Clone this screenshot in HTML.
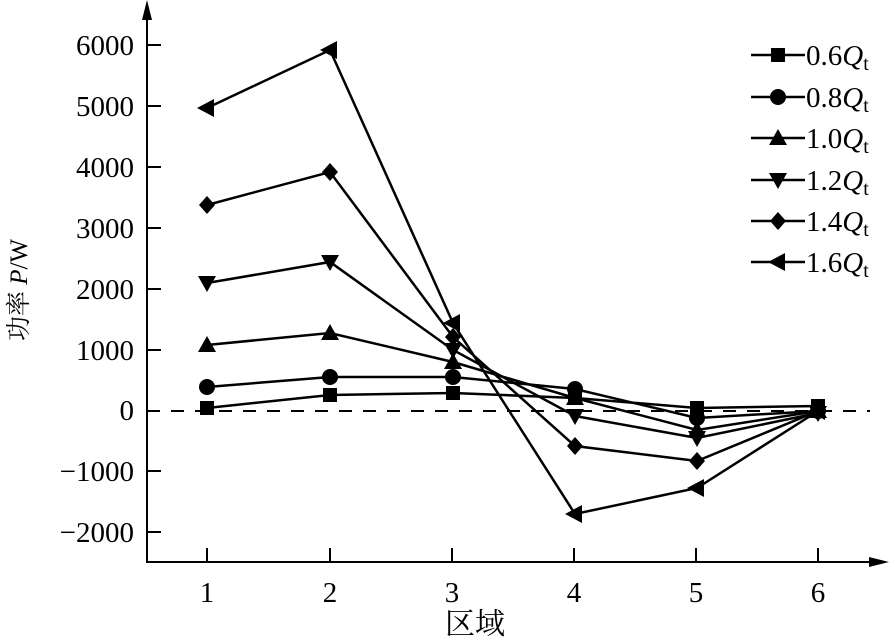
<!DOCTYPE html>
<html><head><meta charset="utf-8"><style>
html,body{margin:0;padding:0;background:#fff;}
svg{display:block;}
text{font-family:"Liberation Serif","Noto Serif CJK SC",serif;fill:#000;}
</style></head><body>
<svg width="889" height="639" viewBox="0 0 889 639" xmlns="http://www.w3.org/2000/svg">
<defs>
<g id="sq"><rect x="-7" y="-7" width="14" height="14"/></g>
<g id="ci"><circle r="8"/></g>
<g id="tu"><polygon points="0,-9 9,7 -9,7"/></g>
<g id="td"><polygon points="0,9 9,-7 -9,-7"/></g>
<g id="di"><polygon points="0,-9 8,0 0,9 -8,0"/></g>
<g id="tl"><polygon points="-10,0 7,-9 7,9"/></g>
</defs>
<line x1="147" y1="8" x2="147" y2="563" stroke="#000" stroke-width="2"/>
<polygon points="147,0 142,20 152,20" fill="#000"/>
<line x1="146" y1="562" x2="880" y2="562" stroke="#000" stroke-width="2"/>
<polygon points="889,562 869,557 869,567" fill="#000"/>
<g stroke="#000" stroke-width="2">
<line x1="147" y1="45" x2="161" y2="45"/><line x1="147" y1="106" x2="161" y2="106"/>
<line x1="147" y1="167" x2="161" y2="167"/><line x1="147" y1="228" x2="161" y2="228"/>
<line x1="147" y1="289" x2="161" y2="289"/><line x1="147" y1="350" x2="161" y2="350"/>
<line x1="147" y1="471" x2="161" y2="471"/><line x1="147" y1="532" x2="161" y2="532"/>
<line x1="207" y1="548" x2="207" y2="562"/><line x1="330" y1="548" x2="330" y2="562"/>
<line x1="452" y1="548" x2="452" y2="562"/><line x1="574" y1="548" x2="574" y2="562"/>
<line x1="696" y1="548" x2="696" y2="562"/><line x1="818" y1="548" x2="818" y2="562"/>
</g>
<line x1="147" y1="411" x2="870" y2="411" stroke="#000" stroke-width="2" stroke-dasharray="13,11"/>
<g font-size="29" text-anchor="end">
<text x="134" y="55">6000</text><text x="134" y="116">5000</text><text x="134" y="177">4000</text>
<text x="134" y="238">3000</text><text x="134" y="299">2000</text><text x="134" y="360">1000</text>
<text x="134" y="420">0</text><text x="134" y="481">−1000</text><text x="134" y="542">−2000</text>
</g>
<g font-size="29" text-anchor="middle">
<text x="207" y="602">1</text><text x="330" y="602">2</text><text x="452" y="602">3</text>
<text x="574" y="602">4</text><text x="696" y="602">5</text><text x="818" y="602">6</text>
</g>
<text x="475" y="634" font-size="30" text-anchor="middle">区域</text>
<text transform="translate(27,290) rotate(-90)" font-size="25" text-anchor="middle">功率 <tspan font-style="italic">P</tspan>/W</text>
<g fill="none" stroke="#000" stroke-width="2.5">
<polyline points="207,408 330,395 453,393 575,398 697,408 818,406"/>
<polyline points="207,387 330,377 453,377 575,389 697,418 818,411"/>
<polyline points="207,345 330,333 453,362 575,398 697,430 818,411"/>
<polyline points="207,283 330,262 453,350 575,416 697,438 818,413"/>
<polyline points="207,205 330,172 453,337 575,446 697,461 818,411"/>
<polyline points="207,108 330,50 453,323 575,514 697,488 818,411"/>
</g>
<g fill="#000">
<use href="#sq" x="207" y="408"/><use href="#sq" x="330" y="395"/><use href="#sq" x="453" y="393"/><use href="#sq" x="575" y="398"/><use href="#sq" x="697" y="408"/><use href="#sq" x="818" y="406"/>
<use href="#ci" x="207" y="387"/><use href="#ci" x="330" y="377"/><use href="#ci" x="453" y="377"/><use href="#ci" x="575" y="389"/><use href="#ci" x="697" y="418"/><use href="#ci" x="818" y="411"/>
<use href="#tu" x="207" y="345"/><use href="#tu" x="330" y="333"/><use href="#tu" x="453" y="362"/><use href="#tu" x="575" y="398"/><use href="#tu" x="697" y="430"/><use href="#tu" x="818" y="411"/>
<use href="#td" x="207" y="283"/><use href="#td" x="330" y="262"/><use href="#td" x="453" y="350"/><use href="#td" x="575" y="416"/><use href="#td" x="697" y="438"/><use href="#td" x="818" y="413"/>
<use href="#di" x="207" y="205"/><use href="#di" x="330" y="172"/><use href="#di" x="453" y="337"/><use href="#di" x="575" y="446"/><use href="#di" x="697" y="461"/><use href="#di" x="818" y="411"/>
<use href="#tl" x="207" y="108"/><use href="#tl" x="330" y="50"/><use href="#tl" x="453" y="323"/><use href="#tl" x="575" y="514"/><use href="#tl" x="697" y="488"/><use href="#tl" x="818" y="411"/>
</g>
<g stroke="#000" stroke-width="2.5">
<line x1="751" y1="55" x2="805" y2="55"/><line x1="751" y1="97" x2="805" y2="97"/>
<line x1="751" y1="138" x2="805" y2="138"/><line x1="751" y1="180" x2="805" y2="180"/>
<line x1="751" y1="221" x2="805" y2="221"/><line x1="751" y1="262" x2="805" y2="262"/>
</g>
<g fill="#000">
<use href="#sq" x="778" y="55"/><use href="#ci" x="778" y="97"/><use href="#tu" x="778" y="138"/>
<use href="#td" x="778" y="180"/><use href="#di" x="778" y="221"/><use href="#tl" x="778" y="262"/>
</g>
<g font-size="29">
<text x="806" y="65">0.6<tspan font-style="italic">Q</tspan><tspan font-size="20" dy="5">t</tspan></text>
<text x="806" y="107">0.8<tspan font-style="italic">Q</tspan><tspan font-size="20" dy="5">t</tspan></text>
<text x="806" y="148">1.0<tspan font-style="italic">Q</tspan><tspan font-size="20" dy="5">t</tspan></text>
<text x="806" y="190">1.2<tspan font-style="italic">Q</tspan><tspan font-size="20" dy="5">t</tspan></text>
<text x="806" y="231">1.4<tspan font-style="italic">Q</tspan><tspan font-size="20" dy="5">t</tspan></text>
<text x="806" y="272">1.6<tspan font-style="italic">Q</tspan><tspan font-size="20" dy="5">t</tspan></text>
</g>
</svg>
</body></html>
